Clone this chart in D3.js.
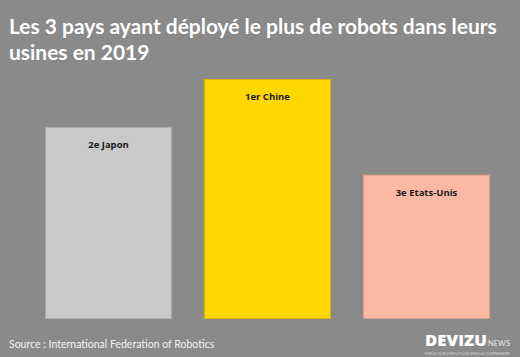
<!DOCTYPE html>
<html><head><meta charset="utf-8">
<script src="https://cdn.jsdelivr.net/npm/d3@7"></script>
<style>html,body{margin:0;padding:0;background:#8a8a8a;overflow:hidden}</style>
</head><body>
<script>
const categories = ["2e Japon", "1er Chine", "3e Etats-Unis"];
const values = [4, 5, 3];
const colors = ["#c9c9c9", "#ffd700", "#fbb9a4"];
const strokes = ["#a9a9a9", "#d6b400", "#d99c89"];
const titleLines = ["Les 3 pays ayant déployé le plus de robots dans leurs", "usines en 2019"];
const source = "Source : International Federation of Robotics";

const W = 520, H = 357;
const svg = d3.select("body").append("svg").attr("width", W).attr("height", H);
svg.append("rect").attr("width", W).attr("height", H).attr("fill", "#8a8a8a");

const x = d3.scaleBand().domain(categories).range([29, 506]).paddingInner(0.2).paddingOuter(0.1);
const y = d3.scaleLinear().domain([0, 5]).range([318, 79]);

const font = "Lato, 'Open Sans', sans-serif";
const t = svg.append("g");
titleLines.forEach((l, i) => {
  t.append("text").attr("x", 9).attr("y", 34 + i * 26).text(l)
    .attr("fill", "#fff").attr("font-family", font).attr("font-weight", 700).attr("font-size", 20);
});
const first = t.select("text").node();
const len = first.getComputedTextLength();
const fs = 20 * 488 / len;
t.selectAll("text").attr("font-size", fs);

const g = svg.append("g");
g.selectAll("rect.bar").data(categories).join("rect").attr("class", "bar")
  .attr("x", d => x(d) + 0.5).attr("y", (d, i) => y(values[i]) + 0.5)
  .attr("width", x.bandwidth() - 1).attr("height", (d, i) => y(0) - y(values[i]))
  .attr("fill", (d, i) => colors[i]).attr("stroke", (d, i) => strokes[i]).attr("stroke-width", 1);

g.selectAll("text.lab").data(categories).join("text").attr("class", "lab")
  .attr("x", d => x(d) + x.bandwidth() / 2).attr("y", (d, i) => y(values[i]) + 21)
  .attr("text-anchor", "middle").attr("font-family", "'Open Sans', sans-serif").attr("font-weight", 700)
  .attr("font-size", 9.5).attr("fill", "#1a1a1a").text(d => d);

svg.append("text").attr("x", 9).attr("y", 348).text(source)
  .attr("fill", "#f2f2f2").attr("font-family", font).attr("font-size", 10.5);

const logo = svg.append("g");
logo.append("text").attr("x", 425).attr("y", 346).text("DEVIZU")
  .attr("fill", "#fff").attr("font-family", "'Open Sans', sans-serif").attr("font-weight", 800)
  .attr("font-size", 16).attr("textLength", 62).attr("lengthAdjust", "spacingAndGlyphs");
logo.append("text").attr("x", 488).attr("y", 346).text("NEWS")
  .attr("fill", "#e8e8e8").attr("font-family", font).attr("font-size", 7.5)
  .attr("textLength", 22).attr("lengthAdjust", "spacingAndGlyphs");
logo.append("text").attr("x", 425).attr("y", 354.5).text("MIEUX VOIR L'INFO POUR BIEN LA COMPRENDRE")
  .attr("fill", "#d8d8d8").attr("font-family", font).attr("font-size", 3)
  .attr("textLength", 85).attr("lengthAdjust", "spacingAndGlyphs");
</script>
</body></html>
